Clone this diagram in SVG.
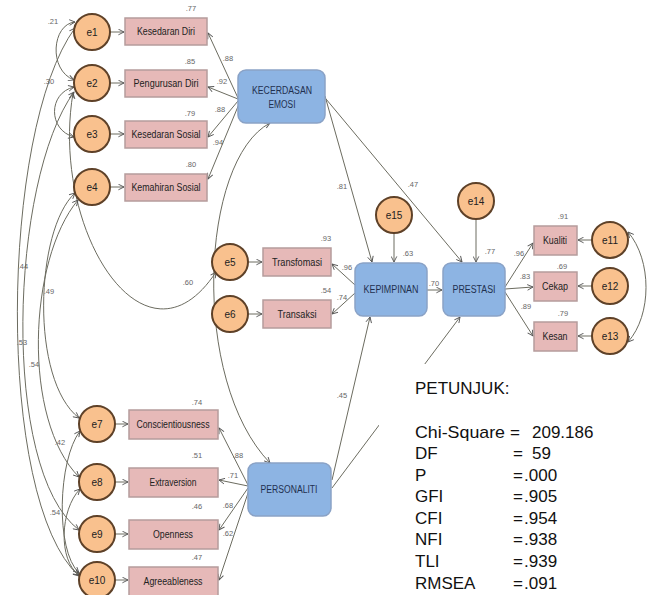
<svg xmlns="http://www.w3.org/2000/svg" width="656" height="595" viewBox="0 0 656 595">
<style>
.err{fill:#f9c18e;stroke:#5e4128;stroke-width:2}
.ind{fill:#e6b9b8;stroke:#b59c9c;stroke-width:1.5}
.lat{fill:#8db4e3;stroke:#8aa2c6;stroke-width:1.5}
.c{fill:none;stroke:#6c6c60;stroke-width:1}
.t{font-family:"Liberation Sans",Arial,sans-serif;font-size:10px;fill:#222;text-anchor:middle}
.lt{font-family:"Liberation Sans",Arial,sans-serif;font-size:10px;fill:#1f3050;text-anchor:middle}
.n{font-family:"Liberation Sans",Arial,sans-serif;font-size:7.5px;fill:#666;text-anchor:middle}
.g{font-family:"Liberation Sans",Arial,sans-serif;font-size:17px;fill:#111}
</style>
<defs>
<marker id="a" viewBox="0 0 10 10" refX="9" refY="5" markerWidth="7" markerHeight="7" orient="auto-start-reverse" markerUnits="userSpaceOnUse">
<path d="M1,1 L9,5 L1,9" fill="none" stroke="#555" stroke-width="1.3"/>
</marker>
</defs>
<rect width="656" height="595" fill="#fff"/>

<g id="connectors">
<path class="c" d="M110,32 L124,32" marker-end="url(#a)"/>
<path class="c" d="M110,83 L124,83" marker-end="url(#a)"/>
<path class="c" d="M110,134 L124,134" marker-end="url(#a)"/>
<path class="c" d="M110,187 L124,187" marker-end="url(#a)"/>
<path class="c" d="M248,262 L262,262" marker-end="url(#a)"/>
<path class="c" d="M248,314 L262,314" marker-end="url(#a)"/>
<path class="c" d="M115,424 L128,424" marker-end="url(#a)"/>
<path class="c" d="M115,482 L128,482" marker-end="url(#a)"/>
<path class="c" d="M115,534 L128,534" marker-end="url(#a)"/>
<path class="c" d="M115,580 L128,580" marker-end="url(#a)"/>
<path class="c" d="M592,240 L578,240" marker-end="url(#a)"/>
<path class="c" d="M592,286 L578,286" marker-end="url(#a)"/>
<path class="c" d="M592,336 L578,336" marker-end="url(#a)"/>
<path class="c" d="M238,98 L208,33" marker-end="url(#a)" stroke-width="1.3"/>
<path class="c" d="M238,99 L208,87" marker-end="url(#a)" stroke-width="1.3"/>
<path class="c" d="M238,101 L208,137" marker-end="url(#a)" stroke-width="1.3"/>
<path class="c" d="M239,104 L208,179" marker-end="url(#a)" stroke-width="1.3"/>
<path class="c" d="M325,96 L372,262" marker-end="url(#a)"/>
<path class="c" d="M326,99 L462,262" marker-end="url(#a)"/>
<path class="c" d="M394,233 L394,262" marker-end="url(#a)"/>
<path class="c" d="M476,219 L476,262" marker-end="url(#a)"/>
<path class="c" d="M427,290 L442,290" marker-end="url(#a)"/>
<path class="c" d="M355,285 L332,264" marker-end="url(#a)" stroke-width="1.3"/>
<path class="c" d="M355,293 L332,314" marker-end="url(#a)" stroke-width="1.3"/>
<path class="c" d="M505,287 L533,243" marker-end="url(#a)" stroke-width="1.3"/>
<path class="c" d="M505,289 L533,287" marker-end="url(#a)" stroke-width="1.3"/>
<path class="c" d="M505,292 L533,336" marker-end="url(#a)" stroke-width="1.3"/>
<path class="c" d="M332,480 L370,317" marker-end="url(#a)"/>
<path class="c" d="M332,488 L460,317" marker-end="url(#a)"/>
<path class="c" d="M248,485 L219,428" marker-end="url(#a)" stroke-width="1.3"/>
<path class="c" d="M248,486 L219,480" marker-end="url(#a)" stroke-width="1.3"/>
<path class="c" d="M248,488 L219,530" marker-end="url(#a)" stroke-width="1.3"/>
<path class="c" d="M249,490 L219,580" marker-end="url(#a)" stroke-width="1.3"/>
<path class="c" d="M75,22 C52,24 48,70 74,80" marker-start="url(#a)" marker-end="url(#a)"/>
<path class="c" d="M74,87 C48,93 48,130 74,137" marker-start="url(#a)" marker-end="url(#a)"/>
<path class="c" d="M73,93 C50,230 145,380 216,272" marker-start="url(#a)" marker-end="url(#a)"/>
<path class="c" d="M270,123 C200,160 190,380 270,463" marker-start="url(#a)" marker-end="url(#a)"/>
<path class="c" d="M75,28 C0,130 -5,500 79,576" marker-start="url(#a)" marker-end="url(#a)"/>
<path class="c" d="M74,92 C10,180 0,470 79,530" marker-start="url(#a)" marker-end="url(#a)"/>
<path class="c" d="M75,193 C35,230 30,380 79,418" marker-start="url(#a)" marker-end="url(#a)"/>
<path class="c" d="M78,200 C28,260 22,420 79,477" marker-start="url(#a)" marker-end="url(#a)"/>
<path class="c" d="M80,431 C58,460 55,550 79,573" marker-start="url(#a)" marker-end="url(#a)"/>
<path class="c" d="M80,489 C60,510 58,560 79,575" marker-start="url(#a)" marker-end="url(#a)"/>
<path class="c" d="M628,232 C652,260 652,315 628,342" marker-start="url(#a)" marker-end="url(#a)"/>
</g>

<g id="labels">
<text class="n" x="191" y="11">.77</text>
<text class="n" x="190" y="64">.85</text>
<text class="n" x="190" y="116">.79</text>
<text class="n" x="191" y="167">.80</text>
<text class="n" x="228" y="61">.88</text>
<text class="n" x="222" y="84">.92</text>
<text class="n" x="220" y="112">.88</text>
<text class="n" x="218" y="145">.94</text>
<text class="n" x="53" y="24">.21</text>
<text class="n" x="49" y="84">.30</text>
<text class="n" x="342" y="189">.81</text>
<text class="n" x="413" y="187">.47</text>
<text class="n" x="326" y="241">.93</text>
<text class="n" x="326" y="293">.54</text>
<text class="n" x="347" y="270">.96</text>
<text class="n" x="342" y="300">.74</text>
<text class="n" x="408" y="256">.63</text>
<text class="n" x="434" y="286">.70</text>
<text class="n" x="490" y="254">.77</text>
<text class="n" x="519" y="256">.96</text>
<text class="n" x="525" y="279">.83</text>
<text class="n" x="526" y="309">.89</text>
<text class="n" x="563" y="219">.91</text>
<text class="n" x="562" y="269">.69</text>
<text class="n" x="563" y="316">.79</text>
<text class="n" x="188" y="285">.60</text>
<text class="n" x="23" y="269">.44</text>
<text class="n" x="49" y="294">.49</text>
<text class="n" x="22" y="345">.53</text>
<text class="n" x="34" y="367">.54</text>
<text class="n" x="60" y="445">.42</text>
<text class="n" x="55" y="515">.54</text>
<text class="n" x="197" y="405">.74</text>
<text class="n" x="197" y="458">.51</text>
<text class="n" x="197" y="509">.46</text>
<text class="n" x="197" y="560">.47</text>
<text class="n" x="238" y="458">.88</text>
<text class="n" x="233" y="478">.71</text>
<text class="n" x="228" y="508">.68</text>
<text class="n" x="228" y="536">.62</text>
<text class="n" x="342" y="398">.45</text>
</g>

<g id="e1"><circle class="err" cx="92" cy="32" r="18"/><text class="t" x="92" y="36">e1</text></g>
<g id="e2"><circle class="err" cx="92" cy="83" r="18"/><text class="t" x="92" y="87">e2</text></g>
<g id="e3"><circle class="err" cx="92" cy="134" r="18"/><text class="t" x="92" y="138">e3</text></g>
<g id="e4"><circle class="err" cx="92" cy="187" r="18"/><text class="t" x="92" y="191">e4</text></g>
<g id="e5"><circle class="err" cx="230" cy="262" r="18"/><text class="t" x="230" y="266">e5</text></g>
<g id="e6"><circle class="err" cx="230" cy="314" r="18"/><text class="t" x="230" y="318">e6</text></g>
<g id="e7"><circle class="err" cx="97" cy="424" r="18"/><text class="t" x="97" y="428">e7</text></g>
<g id="e8"><circle class="err" cx="97" cy="482" r="18"/><text class="t" x="97" y="486">e8</text></g>
<g id="e9"><circle class="err" cx="97" cy="534" r="18"/><text class="t" x="97" y="538">e9</text></g>
<g id="e10"><circle class="err" cx="97" cy="580" r="18"/><text class="t" x="97" y="584">e10</text></g>
<g id="e11"><circle class="err" cx="610" cy="240" r="18"/><text class="t" x="610" y="244">e11</text></g>
<g id="e12"><circle class="err" cx="610" cy="286" r="18"/><text class="t" x="610" y="290">e12</text></g>
<g id="e13"><circle class="err" cx="610" cy="336" r="18"/><text class="t" x="610" y="340">e13</text></g>
<g id="e14"><circle class="err" cx="476" cy="201" r="18"/><text class="t" x="476" y="205">e14</text></g>
<g id="e15"><circle class="err" cx="394" cy="215" r="18"/><text class="t" x="394" y="219">e15</text></g>

<g id="kesedaran-diri"><rect class="ind" x="125" y="18" width="82" height="27"/><text class="t" x="166" y="35" textLength="58" lengthAdjust="spacingAndGlyphs">Kesedaran Diri</text></g>
<g id="pengurusan-diri"><rect class="ind" x="125" y="70" width="82" height="27"/><text class="t" x="166" y="87" textLength="65" lengthAdjust="spacingAndGlyphs">Pengurusan  Diri</text></g>
<g id="kesedaran-sosial"><rect class="ind" x="125" y="121" width="82" height="27"/><text class="t" x="166" y="138" textLength="69" lengthAdjust="spacingAndGlyphs">Kesedaran Sosial</text></g>
<g id="kemahiran-sosial"><rect class="ind" x="125" y="174" width="82" height="27"/><text class="t" x="166" y="191" textLength="69" lengthAdjust="spacingAndGlyphs">Kemahiran Sosial</text></g>
<g id="transformasi"><rect class="ind" x="263" y="248" width="68" height="28"/><text class="t" x="297" y="266" textLength="50" lengthAdjust="spacingAndGlyphs">Transfomasi</text></g>
<g id="transaksi"><rect class="ind" x="263" y="300" width="68" height="28"/><text class="t" x="297" y="318" textLength="39" lengthAdjust="spacingAndGlyphs">Transaksi</text></g>
<g id="conscientiousness"><rect class="ind" x="129" y="410" width="89" height="29"/><text class="t" x="173" y="428" textLength="73" lengthAdjust="spacingAndGlyphs">Conscientiousness</text></g>
<g id="extraversion"><rect class="ind" x="129" y="468" width="89" height="29"/><text class="t" x="173" y="486" textLength="47" lengthAdjust="spacingAndGlyphs">Extraversion</text></g>
<g id="openness"><rect class="ind" x="129" y="520" width="89" height="29"/><text class="t" x="173" y="538" textLength="40" lengthAdjust="spacingAndGlyphs">Openness</text></g>
<g id="agreeableness"><rect class="ind" x="129" y="567" width="89" height="29"/><text class="t" x="173" y="585" textLength="59" lengthAdjust="spacingAndGlyphs">Agreeableness</text></g>
<g id="kualiti"><rect class="ind" x="534" y="226" width="43" height="29"/><text class="t" x="555" y="244" textLength="24" lengthAdjust="spacingAndGlyphs">Kualiti</text></g>
<g id="cekap"><rect class="ind" x="534" y="272" width="43" height="29"/><text class="t" x="555" y="290" textLength="26" lengthAdjust="spacingAndGlyphs">Cekap</text></g>
<g id="kesan"><rect class="ind" x="534" y="322" width="43" height="29"/><text class="t" x="555" y="340" textLength="25" lengthAdjust="spacingAndGlyphs">Kesan</text></g>

<g id="kecerdasan-emosi"><rect class="lat" x="238" y="70" width="87" height="53" rx="8"/><text class="lt" x="282" y="94" textLength="60" lengthAdjust="spacingAndGlyphs">KECERDASAN</text><text class="lt" x="282" y="108" textLength="27" lengthAdjust="spacingAndGlyphs">EMOSI</text></g>
<g id="kepimpinan"><rect class="lat" x="355" y="263" width="72" height="53" rx="8"/><text class="lt" x="391" y="293" textLength="55" lengthAdjust="spacingAndGlyphs">KEPIMPINAN</text></g>
<g id="prestasi"><rect class="lat" x="443" y="263" width="62" height="53" rx="8"/><text class="lt" x="474" y="293" textLength="43" lengthAdjust="spacingAndGlyphs">PRESTASI</text></g>
<g id="personaliti"><rect class="lat" x="248" y="463" width="83" height="53" rx="8"/><text class="lt" x="289" y="493" textLength="57" lengthAdjust="spacingAndGlyphs">PERSONALITI</text></g>

<g id="legend">
<rect x="379" y="364" width="277" height="231" fill="#fff"/>
<text class="g" x="415" y="394">PETUNJUK:</text>
<text class="g" x="415" y="438" textLength="90" lengthAdjust="spacingAndGlyphs">Chi-Square</text><text class="g" x="510" y="438">=</text><text class="g" x="532" y="438">209.186</text>
<text class="g" x="415" y="459">DF</text><text class="g" x="513" y="459">=</text><text class="g" x="532" y="459">59</text>
<text class="g" x="415" y="481">P</text><text class="g" x="513" y="481">=</text><text class="g" x="524" y="481">.000</text>
<text class="g" x="415" y="502">GFI</text><text class="g" x="513" y="502">=</text><text class="g" x="524" y="502">.905</text>
<text class="g" x="415" y="524">CFI</text><text class="g" x="513" y="524">=</text><text class="g" x="524" y="524">.954</text>
<text class="g" x="415" y="545">NFI</text><text class="g" x="513" y="545">=</text><text class="g" x="524" y="545">.938</text>
<text class="g" x="415" y="567">TLI</text><text class="g" x="513" y="567">=</text><text class="g" x="524" y="567">.939</text>
<text class="g" x="415" y="589">RMSEA</text><text class="g" x="513" y="589">=</text><text class="g" x="524" y="589">.091</text>
</g>
</svg>
